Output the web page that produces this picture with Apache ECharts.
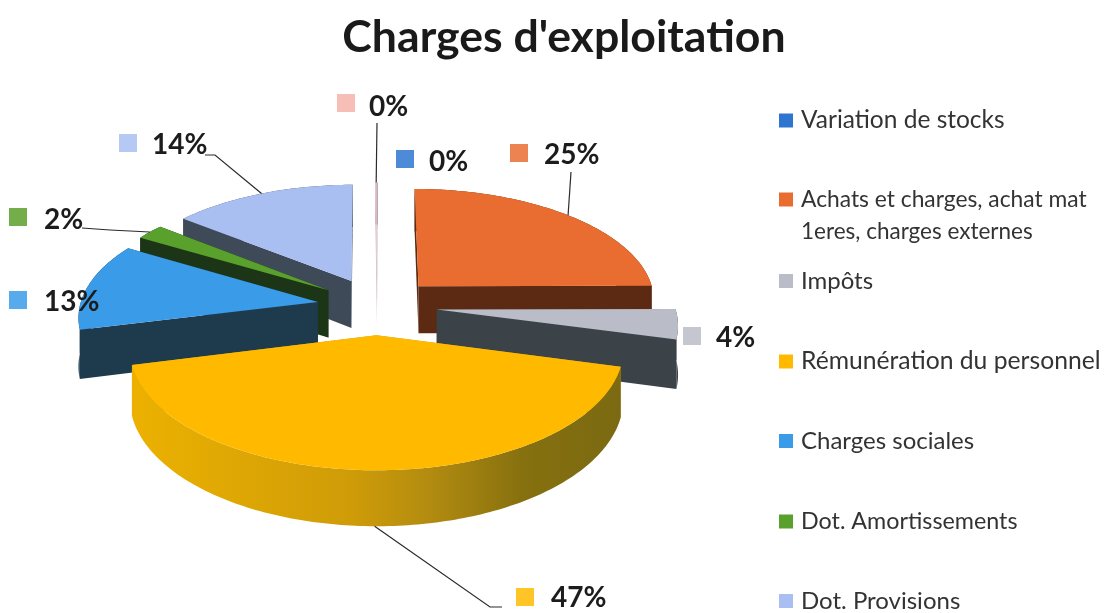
<!DOCTYPE html>
<html>
<head>
<meta charset="utf-8">
<style>
  html, body { margin: 0; padding: 0; background: #fff; }
  #chart { width: 1113px; height: 613px; }
</style>
<script src="https://cdn.jsdelivr.net/npm/echarts@6/dist/echarts.min.js"></script>
</head>
<body>
<div id="chart"></div>
<script>
var categories = ['Variation de stocks', 'Achats et charges, achat mat', 'Impôts', 'Rémunération du personnel', 'Charges sociales', 'Dot. Amortissements', 'Dot. Provisions', 'Autres'];
// slice shares as measured on the drawing
var values = [0.02, 24.9, 4.2, 42, 12.4, 2.2, 14.2, 0.1];
// labels as printed in the picture, they add up to 105 and do not follow the slices exactly
var printedLabels = ['0%', '25%', '4%', '47%', '13%', '2%', '14%', '0%'];
var legendLine2 = '1eres, charges externes';

// styles, one entry per category
var topColors = ['#2e75d0', '#e96d31', '#babcc8', '#ffba00', '#3a9be8', '#5aa02c', '#a9bff2', '#f6b3ac'];
var wallColors = ['#1d3f6a', '#5c2a12', '#3b4248', '#c79510', '#1e3b4d', '#1c3516', '#3f4a58', '#c9a3a0'];
var drawOrder = [2, 6, 7, 8, 5, 4, 3, 1]; // z of each slice, back to front
var legendTops = [120, 200, 281, 361, 441, 522, 601];
var legendSizes = [24.5, 22.8, 24, 24.7, 24, 23.3, 24];

// label anchors: swatch centre, text left, text middle, leader start and elbow
var labelBoxes = [
  { sw: [405, 159], tx: [429, 162] },
  { sw: [519, 153], tx: [544, 155], lead: [[571, 172]] },
  { sw: [692, 336], tx: [716, 338] },
  { sw: [525, 597], tx: [551, 598], lead: [[502, 607], [490, 607]], wall: true },
  { sw: [18, 300], tx: [44, 302] },
  { sw: [18, 217], tx: [44, 220], lead: [[82, 228], [110, 230]] },
  { sw: [128, 143], tx: [152, 145], lead: [[205, 155], [215, 155]] },
  { sw: [346, 103], tx: [369, 107], lead: [[377, 123]] }
];

// fake 3D pie, ground plane seen in perspective
var view = { cx: 377, cy: 306, r: 238, explode: 60, tilt: 0.473, dist: 2100, depth: 48 };

var total = values.reduce(function (a, b) { return a + b; }, 0);
var toRad = Math.PI / 180;

function sliceAngles(index) {
  var sum = 0;
  for (var i = 0; i < index; i++) {
    sum += values[i];
  }
  return [sum / total * 360, (sum + values[index]) / total * 360];
}

function project(angle, radius, mid, h) {
  var X = radius * Math.sin(angle * toRad) + view.explode * Math.sin(mid * toRad);
  var Z = -radius * Math.cos(angle * toRad) - view.explode * Math.cos(mid * toRad);
  var s = view.dist / (view.dist - Z);
  return [view.cx + X * s, view.cy + Z * view.tilt * s + h * s];
}

function wallFill(index) {
  if (index !== 3) {
    return wallColors[index];
  }
  return new echarts.graphic.LinearGradient(0, 0, 1, 0, [
    { offset: 0, color: '#ecb100' },
    { offset: 0.45, color: '#cf9c08' },
    { offset: 0.62, color: '#b08a10' },
    { offset: 0.8, color: '#86700f' },
    { offset: 1, color: '#7b6a12' }
  ]);
}

function renderSlice(params, api) {
  var index = params.seriesIndex;
  var a = sliceAngles(index);
  var mid = (a[0] + a[1]) / 2;
  var steps = Math.max(2, Math.ceil(a[1] - a[0]));
  var arcTop = [], arcLow = [];
  for (var i = 0; i <= steps; i++) {
    var t = a[0] + (a[1] - a[0]) * i / steps;
    arcTop.push(project(t, view.r, mid, 0));
    arcLow.push(project(t, view.r, mid, view.depth));
  }
  var apexTop = project(0, 0, mid, 0);
  var apexLow = project(0, 0, mid, view.depth);
  var wall = wallColors[index];
  var children = [
    { type: 'polygon', shape: { points: [apexTop, arcTop[0], arcLow[0], apexLow] }, style: { fill: wall } },
    { type: 'polygon', shape: { points: [apexTop, arcTop[steps], arcLow[steps], apexLow] }, style: { fill: wall } },
    { type: 'polygon', shape: { points: arcTop.concat(arcLow.slice().reverse()) }, style: { fill: wallFill(index) } },
    { type: 'polygon', shape: { points: [apexTop].concat(arcTop) }, style: { fill: topColors[index] } }
  ];

  var box = labelBoxes[index];
  if (box.lead) {
    var end = project(mid, view.r, mid, box.wall ? view.depth : 0);
    children.push({
      type: 'polyline',
      shape: { points: box.lead.concat([end]) },
      style: { fill: null, stroke: '#2b2b2b', lineWidth: 1.2 }
    });
  }
  children.push({
    type: 'rect',
    shape: { x: box.sw[0] - 9, y: box.sw[1] - 9, width: 18, height: 18 },
    style: { fill: topColors[index], opacity: 0.85 }
  });
  children.push({
    type: 'text',
    style: {
      x: box.tx[0], y: box.tx[1], text: printedLabels[index],
      fill: '#1c1c1c', font: 'bold 28px Lato', textAlign: 'left', textVerticalAlign: 'middle'
    }
  });
  return { type: 'group', children: children };
}

var series = categories.map(function (name, i) {
  return {
    name: name,
    type: 'custom',
    coordinateSystem: 'none',
    z: drawOrder[i],
    animation: false,
    silent: true,
    itemStyle: { color: topColors[i] },
    renderItem: renderSlice,
    data: [[values[i]]]
  };
});

// one legend block per entry, the original spacing is not regular
var legends = legendTops.map(function (top, i) {
  return {
    data: [categories[i]],
    left: 779,
    top: top - 12,
    padding: 0,
    orient: 'vertical',
    icon: 'rect',
    itemWidth: 14,
    itemHeight: 14,
    selectedMode: false,
    textStyle: { fontFamily: 'Lato', fontSize: legendSizes[i], color: '#333', padding: [0, 0, 0, 3] }
  };
});

var chart = echarts.init(document.getElementById('chart'), null, { renderer: 'canvas' });
chart.setOption({
  animation: false,
  backgroundColor: '#fff',
  title: {
    text: "Charges d'exploitation",
    left: 559,
    top: 10,
    textAlign: 'center',
    textStyle: { fontFamily: 'Lato', fontSize: 44.6, fontWeight: 'bold', color: '#1a1a1a' }
  },
  legend: legends,
  graphic: [{
    type: 'text',
    left: 801,
    top: 220,
    style: { text: legendLine2, font: '22.5px Lato', fill: '#333' }
  }],
  series: series
});
</script>
</body>
</html>
